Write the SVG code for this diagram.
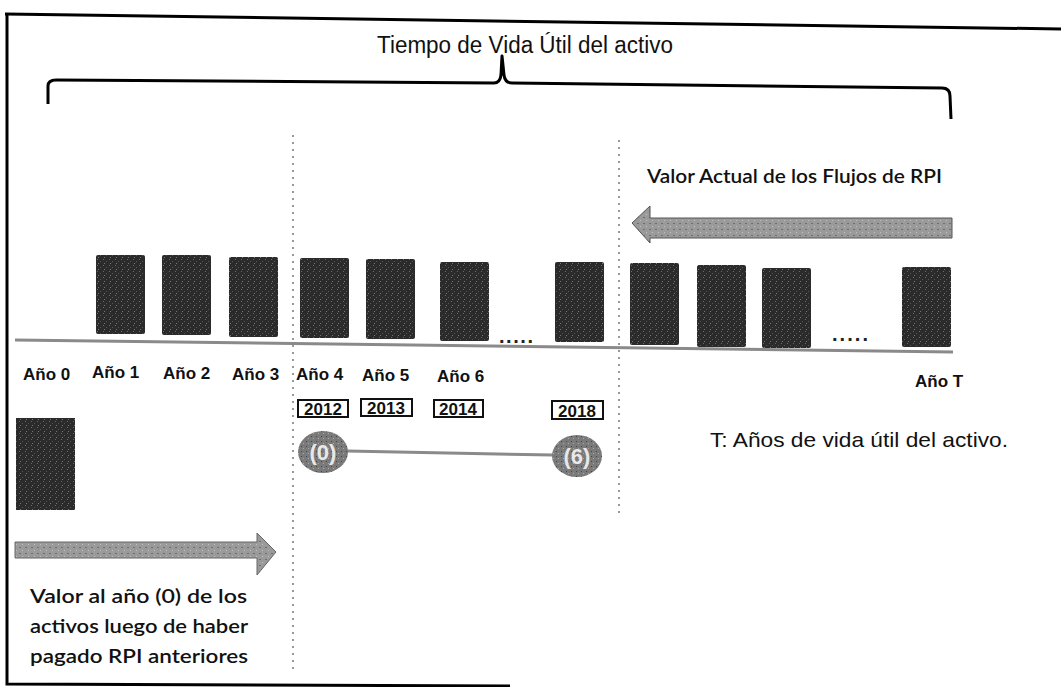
<svg xmlns="http://www.w3.org/2000/svg" width="1061" height="687" viewBox="0 0 1061 687">
<defs>
<pattern id="tex" width="6" height="6" patternUnits="userSpaceOnUse">
<rect width="6" height="6" fill="#2b2b2b"/>
<rect x="1" y="1" width="1" height="1" fill="#6a6a6a"/>
<rect x="4" y="3" width="1" height="1" fill="#555"/>
<rect x="2" y="5" width="1" height="1" fill="#777"/>
</pattern>
<pattern id="gtex" width="6" height="6" patternUnits="userSpaceOnUse">
<rect width="6" height="6" fill="#9a9a9a"/>
<rect x="1" y="1" width="2" height="1" fill="#6e6e6e"/>
<rect x="4" y="4" width="1" height="1" fill="#c4c4c4"/>
</pattern>
<pattern id="ctex" width="5" height="5" patternUnits="userSpaceOnUse">
<rect width="5" height="5" fill="#7a7a7a"/>
<rect x="1" y="1" width="1" height="1" fill="#444"/>
<rect x="3" y="3" width="1" height="1" fill="#aaa"/>
</pattern>
</defs>
<style>
.bar{fill:url(#tex)}
.lbl{font-family:"Liberation Sans",Arial,sans-serif;font-weight:bold;font-size:17px;fill:#111}
.yr{font-family:"Liberation Sans",Arial,sans-serif;font-weight:bold;font-size:17px;fill:#111;text-anchor:middle}
.box{fill:#fff;stroke:#111;stroke-width:2}
.goth{font-family:"Lato","Open Sans",sans-serif;font-size:19px;fill:#111;font-weight:600}
.vdot{stroke:#999;stroke-width:2;stroke-dasharray:2 5;fill:none}
</style>
<rect width="1061" height="687" fill="#fff"/>
<g id="frame" fill="none" stroke="#000" stroke-width="3">
<path d="M5 14 L1061 29"/>
<path d="M7 14 L7 684 L510 686"/>
</g>
<g id="brace" fill="none" stroke="#000" stroke-width="3" stroke-linejoin="round">
<path d="M48 104 L48 86 Q48 80 56 80 L494 83 Q500 83 501 75 L502 56 L504 75 Q505 83 512 83 L942 88 Q950 88 950 96 L951 119"/>
</g>
<text id="title" x="377" y="53" textLength="296" lengthAdjust="spacingAndGlyphs" font-family="Liberation Sans, Arial, sans-serif" font-size="23" fill="#111">Tiempo de Vida Útil del activo</text>
<g id="dividers">
<line class="vdot" x1="293" y1="135" x2="293" y2="672"/>
<line class="vdot" x1="619" y1="140" x2="619" y2="515"/>
</g>
<g id="timeline">
<line x1="15" y1="340" x2="953" y2="352" stroke="#8a8a8a" stroke-width="3"/>
</g>
<g id="bars">
<rect class="bar" x="96" y="255" width="49" height="79" rx="2"/>
<rect class="bar" x="162" y="255" width="49" height="80" rx="2"/>
<rect class="bar" x="229" y="257" width="49" height="80" rx="2"/>
<rect class="bar" x="300" y="258" width="49" height="80" rx="2"/>
<rect class="bar" x="366" y="259" width="49" height="80" rx="2"/>
<rect class="bar" x="440" y="262" width="49" height="79" rx="2"/>
<rect class="bar" x="555" y="262" width="49" height="80" rx="2"/>
<rect class="bar" x="630" y="263" width="49" height="82" rx="2"/>
<rect class="bar" x="697" y="265" width="49" height="82" rx="2"/>
<rect class="bar" x="762" y="268" width="49" height="80" rx="2"/>
<rect class="bar" x="902" y="267" width="49" height="80" rx="2"/>
</g>
<g id="ellipsis" font-family="Liberation Sans, Arial, sans-serif" font-weight="bold" font-size="20" fill="#222">
<text x="499" y="343" textLength="34">.....</text>
<text x="832" y="341" textLength="36">.....</text>
</g>
<g id="year-labels">
<text class="lbl" x="23" y="380">Año 0</text>
<text class="lbl" x="92" y="378">Año 1</text>
<text class="lbl" x="163" y="379">Año 2</text>
<text class="lbl" x="232" y="380">Año 3</text>
<text class="lbl" x="296" y="380">Año 4</text>
<text class="lbl" x="362" y="381">Año 5</text>
<text class="lbl" x="437" y="382">Año 6</text>
<text class="lbl" x="915" y="387">Año T</text>
</g>
<g id="year-boxes">
<rect class="box" x="298" y="400" width="50" height="17"/><text class="yr" x="323" y="415">2012</text>
<rect class="box" x="361" y="399" width="51" height="17"/><text class="yr" x="386" y="414">2013</text>
<rect class="box" x="434" y="400" width="49" height="17"/><text class="yr" x="458" y="415">2014</text>
<rect class="box" x="552" y="401" width="51" height="18"/><text class="yr" x="577" y="417">2018</text>
</g>
<g id="connectors">
<line x1="347" y1="451" x2="553" y2="455" stroke="#8a8a8a" stroke-width="3"/>
</g>
<g id="circle-0">
<ellipse cx="323" cy="452" rx="25" ry="21" fill="url(#ctex)"/>
<text x="323" y="460" text-anchor="middle" font-family="Liberation Sans, Arial, sans-serif" font-size="22" font-weight="bold" fill="#e8e8e8">(0)</text>
</g>
<g id="circle-6">
<ellipse cx="577" cy="456" rx="25" ry="21" fill="url(#ctex)"/>
<text x="577" y="464" text-anchor="middle" font-family="Liberation Sans, Arial, sans-serif" font-size="22" font-weight="bold" fill="#e8e8e8">(6)</text>
</g>
<g id="pv-arrow">
<polygon points="632,223 650,206 650,218 952,218 952,238 650,238 650,243" fill="url(#gtex)" stroke="#555" stroke-width="1"/>
<text class="goth" x="647" y="183" textLength="295" lengthAdjust="spacingAndGlyphs">Valor Actual de los Flujos de RPI</text>
</g>
<g id="initial-value">
<rect class="bar" x="16" y="418" width="59" height="92"/>
<polygon points="15,542 257,542 257,533 276,552 257,575 257,558 15,558" fill="url(#gtex)" stroke="#666" stroke-width="1"/>
<text class="goth" x="30" y="603" textLength="217" lengthAdjust="spacingAndGlyphs">Valor al año (0) de los</text>
<text class="goth" x="30" y="633" textLength="218" lengthAdjust="spacingAndGlyphs">activos luego de haber</text>
<text class="goth" x="30" y="663" textLength="218" lengthAdjust="spacingAndGlyphs">pagado RPI anteriores</text>
</g>
<text id="legend" x="710" y="447" textLength="298" lengthAdjust="spacingAndGlyphs" font-family="Liberation Sans, Arial, sans-serif" font-size="21" fill="#111">T: Años de vida útil del activo.</text>
</svg>
